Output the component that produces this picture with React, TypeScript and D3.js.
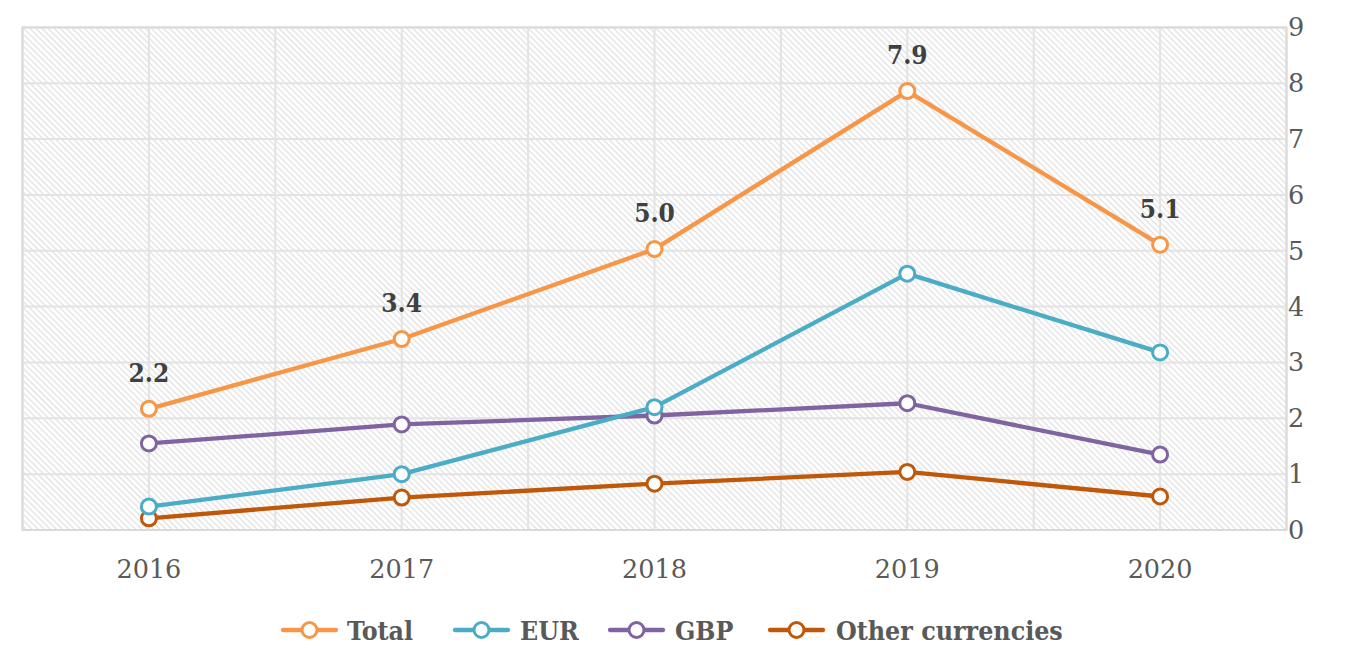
import React from "react";
import * as d3 from "d3";

const years = ["2016", "2017", "2018", "2019", "2020"];
const totalValues = [2.17, 3.42, 5.03, 7.86, 5.11];
const totalLabels = ["2.2", "3.4", "5.0", "7.9", "5.1"];
const eurValues = [0.42, 1.0, 2.2, 4.59, 3.18];
const gbpValues = [1.55, 1.89, 2.05, 2.27, 1.35];
const otherValues = [0.21, 0.58, 0.83, 1.04, 0.6];
const yTicks = [0, 1, 2, 3, 4, 5, 6, 7, 8, 9];

const seriesNames = ["Total", "EUR", "GBP", "Other currencies"];
const seriesColors = ["#F79646", "#4BACC6", "#8064A2", "#C0580A"];

const W = 1360;
const H = 661;
const L = 22.5;
const R = 1286.5;
const T = 27.4;
const B = 530;

export default function App() {
  const x = d3.scalePoint<string>().domain(years).range([L, R]).padding(0.5);
  const y = d3.scaleLinear().domain([0, 9]).range([B, T]);
  const step = x.step();
  const vLines = d3.range(0, years.length * 2 + 1).map((i) => L + (i * step) / 2);

  const allSeries = [totalValues, eurValues, gbpValues, otherValues];
  const line = d3
    .line<number>()
    .x((_, i) => x(years[i]) as number)
    .y((d) => y(d));

  const legendItems = [
    { lx: 283, tx: 347 },
    { lx: 455, tx: 520 },
    { lx: 610, tx: 675 },
    { lx: 770, tx: 836 },
  ];

  return (
    <svg
      width={W}
      height={H}
      style={{ position: "absolute", left: 0, top: 0, background: "#fff" }}
    >
      <defs>
        <pattern
          id="hatch"
          patternUnits="userSpaceOnUse"
          width={4.3}
          height={4.3}
          patternTransform="rotate(-45)"
        >
          <line x1={1} y1={0} x2={1} y2={4.3} stroke="#d8d8d8" strokeWidth={1} />
        </pattern>
      </defs>
      <rect x={L} y={T} width={R - L} height={B - T} fill="url(#hatch)" />
      {yTicks.map((t) => (
        <line key={"h" + t} x1={L} x2={R} y1={y(t)} y2={y(t)} stroke="#e3e3e3" strokeWidth={2} />
      ))}
      {vLines.map((vx, i) => (
        <line key={"v" + i} x1={vx} x2={vx} y1={T} y2={B} stroke="#e3e3e3" strokeWidth={2} />
      ))}
      <rect x={L} y={T} width={R - L} height={B - T} fill="none" stroke="#dadada" strokeWidth={2} />

      {yTicks.map((t) => (
        <text
          key={"yt" + t}
          x={1296}
          y={y(t) + 9}
          textAnchor="middle"
          fontFamily="DejaVu Serif"
          fontSize={25.5}
          fill="#595959"
        >
          {t}
        </text>
      ))}
      {years.map((yr) => (
        <text
          key={"xt" + yr}
          x={x(yr)}
          y={578}
          textAnchor="middle"
          fontFamily="DejaVu Serif"
          fontSize={25.5}
          fill="#595959"
        >
          {yr}
        </text>
      ))}

      {allSeries
        .map((vals, si) => ({ vals, si }))
        .reverse()
        .map(({ vals, si }) => (
          <g key={"s" + si}>
            <path d={line(vals) || ""} fill="none" stroke={seriesColors[si]} strokeWidth={4.3} strokeLinejoin="round" />
            {vals.map((v, i) => (
              <circle
                key={i}
                cx={x(years[i])}
                cy={y(v)}
                r={7.5}
                fill="#fff"
                stroke={seriesColors[si]}
                strokeWidth={3}
              />
            ))}
          </g>
        ))}

      {totalValues.map((v, i) => (
        <text
          key={"dl" + i}
          x={x(years[i])}
          y={y(v) - 27}
          textAnchor="middle"
          fontFamily="DejaVu Serif Condensed, DejaVu Serif"
          fontWeight="bold"
          fontSize={26}
          fill="#404040"
        >
          {totalLabels[i]}
        </text>
      ))}

      {legendItems.map((it, i) => (
        <g key={"lg" + i}>
          <line x1={it.lx} x2={it.lx + 53} y1={630} y2={630} stroke={seriesColors[i]} strokeWidth={4.3} strokeLinecap="round" />
          <circle cx={it.lx + 26.5} cy={630} r={7.5} fill="#fff" stroke={seriesColors[i]} strokeWidth={3} />
          <text
            x={it.tx}
            y={639.5}
            fontFamily="DejaVu Serif Condensed, DejaVu Serif"
            fontWeight="bold"
            fontSize={26.5}
            fill="#595959"
          >
            {seriesNames[i]}
          </text>
        </g>
      ))}
    </svg>
  );
}
